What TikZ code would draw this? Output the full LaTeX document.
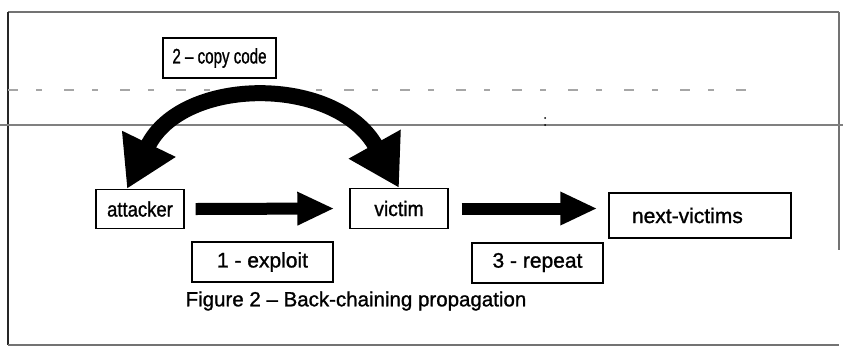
\documentclass[tikz,border=0pt]{standalone}
\usepackage{fontspec}
\setmainfont{Liberation Sans}[FakeBold=1.2]
\usetikzlibrary{arrows.meta}
\definecolor{framegray}{gray}{0.45}
\begin{document}
\begin{tikzpicture}[x=1pt,y=-1pt,
  box/.style={draw, line width=1.4pt, fill=white, minimum height=42pt,
    inner sep=0pt, font=\fontsize{21}{25}\selectfont},
  tag/.style={draw, line width=2pt, fill=white, inner sep=0pt,
    minimum height=40pt, font=\fontsize{21}{25}\selectfont},
  fatarrow/.style={line width=12pt, -{Triangle[width=31pt,length=37pt]}},
  arcarrow/.style={line width=16pt,
    {Triangle[width=56pt,length=50pt]}-{Triangle[width=56pt,length=50pt]}}]
\useasboundingbox (0,0) rectangle (843,349);

% frame and ruled lines
\draw[framegray, line width=1.5pt] (8,12) -- (839,12);
\draw[black!85, line width=1.5pt] (8,12) -- (8,345);
\draw[framegray, line width=1.5pt] (8,345) -- (839,345);
\draw[framegray, line width=1.2pt] (839,12) -- (839,250);
\draw[gray, line width=1.5pt] (0,125) -- (843,125);
\draw[gray!70, line width=1.2pt, dash pattern=on 10pt off 18pt on 6pt off 22pt] (8,90) -- (760,90);
\fill[black] (545,118) circle (1pt) (545,125) circle (1pt);

% main boxes
\node[box, minimum width=88pt, minimum height=39pt] (attacker) at (140,209) {\scalebox{0.88}[1]{attacker}};
\node[box, minimum width=98pt, minimum height=40pt] (victim) at (399,208.5) {\scalebox{0.92}[1]{victim}};
\node[box, minimum width=182pt, minimum height=45pt, text width=136pt, align=left] (next) at (700,215.5) {next-victims};

% step labels
\node[tag, minimum width=113pt] (copy) at (219.5,58) {\scalebox{0.72}[1]{2 – copy code}};
\node[tag, minimum width=141pt] (exploit) at (262.5,262) {1 - exploit};
\node[tag, minimum width=131pt] (repeat) at (537.5,262.5) {3 - repeat};

% connectors
\draw[fatarrow] ([xshift=11pt]attacker.east) -- ([xshift=-15pt]victim.west);
\draw[fatarrow] ([xshift=13pt]victim.east) -- ([xshift=-11pt]victim.east -| next.west);
\draw[arcarrow] ([xshift=-13pt]attacker.north) .. controls +(55,-113) and +(-63,-113) .. (victim.north);

% caption
\node[font=\fontsize{20.5}{24}\selectfont] (caption) at (356,301) {Figure 2 – Back-chaining propagation};
\end{tikzpicture}
\end{document}
